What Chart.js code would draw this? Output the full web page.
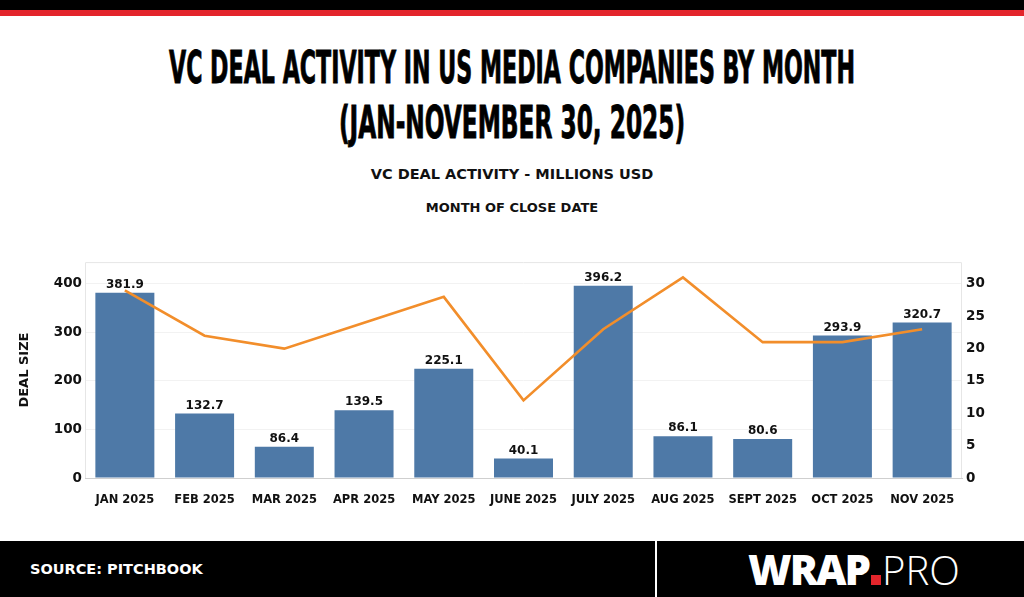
<!DOCTYPE html>
<html lang="en">
<head>
    <meta charset="UTF-8">
    <title>VC Deal Activity in US Media Companies by Month</title>
    <script src="https://cdn.jsdelivr.net/npm/chart.js"></script>
    <style>
        body {
            margin: 0;
            width: 1024px;
            height: 597px;
            position: relative;
            overflow: hidden;
            background: #fff;
            font-family: 'DejaVu Sans', sans-serif;
        }

        .band-black { position: absolute; left: 0; top: 0; width: 1024px; height: 10px; background: #000; }
        .band-red { position: absolute; left: 0; top: 10px; width: 1024px; height: 6px; background: #e3252b; }

        .title {
            position: absolute;
            left: 512px;
            font-family: 'Liberation Sans Narrow', 'DejaVu Sans Condensed', sans-serif;
            font-weight: bold;
            font-size: 44px;
            line-height: 44px;
            color: #000;
            white-space: nowrap;
            -webkit-text-stroke: 0.9px #000;
            transform-origin: center;
        }

        .sub {
            position: absolute;
            left: 0;
            width: 1024px;
            text-align: center;
            font-weight: bold;
            color: #111;
            white-space: nowrap;
        }

        #wrap {
            position: absolute;
            left: 0;
            top: 250px;
            width: 1024px;
            height: 260px;
        }

        footer {
            position: absolute;
            left: 0;
            top: 541px;
            width: 1024px;
            height: 56px;
            background: #000;
        }
        .divider { position: absolute; left: 655px; top: 0; width: 2px; height: 56px; background: #fff; }
        .source {
            position: absolute;
            left: 30px;
            top: 19px;
            color: #fff;
            font-weight: bold;
            font-size: 14.5px;
            line-height: 18px;
        }
        .logo {
            position: absolute;
            left: 748px;
            top: 4px;
            color: #fff;
            font-family: 'Open Sans', sans-serif;
            font-size: 42px;
            line-height: 48px;
            white-space: nowrap;
        }
        .logo b { font-weight: 800; letter-spacing: -2px; }
        .logo i { display: inline-block; width: 10px; height: 10px; background: #e3252b; margin: 0 1px 0 2px; }
        .logo em { font-style: normal; font-weight: 300; font-size: 40px; }
    </style>
</head>
<body>
    <div class="band-black"></div>
    <div class="band-red"></div>

    <div class="title" id="t1" style="top: 46px;">VC DEAL ACTIVITY IN US MEDIA COMPANIES BY MONTH</div>
    <div class="title" id="t2" style="top: 101px;">(JAN-NOVEMBER 30, 2025)</div>

    <div class="sub" style="top: 166px; font-size: 14.5px;">VC DEAL ACTIVITY - MILLIONS USD</div>
    <div class="sub" style="top: 200px; font-size: 13px;">MONTH OF CLOSE DATE</div>

    <div id="wrap"><canvas id="dealChart"></canvas></div>

    <footer>
        <div class="source">SOURCE: PITCHBOOK</div>
        <div class="divider"></div>
        <div class="logo"><b>WRAP</b><i></i><em>PRO</em></div>
    </footer>

    <script>
        // data
        const months = ['JAN 2025', 'FEB 2025', 'MAR 2025', 'APR 2025', 'MAY 2025', 'JUNE 2025',
                        'JULY 2025', 'AUG 2025', 'SEPT 2025', 'OCT 2025', 'NOV 2025'];
        // bar heights as drawn (the March bar is drawn shorter than its 86.4 label)
        const dealSize = [381.9, 132.7, 64.4, 139.5, 225.1, 40.1, 396.2, 86.1, 80.6, 293.9, 320.7];
        const dealSizeLabels = ['381.9', '132.7', '86.4', '139.5', '225.1', '40.1',
                                '396.2', '86.1', '80.6', '293.9', '320.7'];
        const dealCount = [29, 22, 20, 24, 28, 12, 23, 31, 21, 21, 23];
        const leftTicks = [0, 100, 200, 300, 400];
        const rightTicks = [0, 5, 10, 15, 20, 25, 30];

        // squeeze the headline lines to the widths of the original
        function fitTitle(id, width) {
            const el = document.getElementById(id);
            el.style.transform = 'translateX(-50%) scaleX(' + (width / el.offsetWidth) + ')';
        }
        fitTitle('t1', 686);
        fitTitle('t2', 346);

        const fontFamily = "'DejaVu Sans', sans-serif";

        // light frame around the plot
        const framePlugin = {
            id: 'frame',
            beforeDatasetsDraw(chart) {
                const { ctx, chartArea: a } = chart;
                ctx.save();
                ctx.strokeStyle = '#e6e6e6';
                ctx.lineWidth = 1;
                ctx.beginPath();
                ctx.moveTo(a.left + 0.5, a.bottom);
                ctx.lineTo(a.left + 0.5, a.top + 0.5);
                ctx.lineTo(a.right - 0.5, a.top + 0.5);
                ctx.lineTo(a.right - 0.5, a.bottom);
                ctx.stroke();
                ctx.restore();
            }
        };

        // value labels on top of the bars
        const barLabelPlugin = {
            id: 'barLabels',
            afterDatasetsDraw(chart) {
                const { ctx } = chart;
                const meta = chart.getDatasetMeta(1);
                ctx.save();
                ctx.font = 'bold 12px ' + fontFamily;
                ctx.fillStyle = '#111';
                ctx.textAlign = 'center';
                ctx.textBaseline = 'bottom';
                meta.data.forEach((bar, i) => {
                    ctx.fillText(dealSizeLabels[i], bar.x, bar.y - 2);
                });
                ctx.restore();
            }
        };

        new Chart(document.getElementById('dealChart'), {
            data: {
                labels: months,
                datasets: [
                    {
                        type: 'line',
                        label: 'Deal Count',
                        data: dealCount,
                        yAxisID: 'y1',
                        borderColor: '#f28e2b',
                        borderWidth: 2.6,
                        pointRadius: 0,
                        tension: 0,
                        order: 0
                    },
                    {
                        type: 'bar',
                        label: 'Deal Size',
                        data: dealSize,
                        yAxisID: 'y',
                        backgroundColor: '#4e79a7',
                        barPercentage: 0.74,
                        categoryPercentage: 1,
                        order: 1
                    }
                ]
            },
            options: {
                responsive: true,
                maintainAspectRatio: false,
                animation: false,
                layout: { padding: { top: 10.7, left: 0, right: 0, bottom: 0 }, autoPadding: false },
                plugins: {
                    legend: { display: false },
                    tooltip: { enabled: false }
                },
                scales: {
                    x: {
                        grid: { display: false },
                        border: { color: '#cfcfcf' },
                        ticks: {
                            color: '#111',
                            font: { family: fontFamily, weight: 'bold', size: 11.5 },
                            padding: 7,
                            maxRotation: 0,
                            autoSkip: false
                        },
                        afterFit(scale) { scale.height = 32; }
                    },
                    y: {
                        position: 'left',
                        min: 0,
                        max: 445,
                        grid: { color: '#f2f2f2', drawTicks: false },
                        border: { display: false },
                        ticks: { color: '#111', font: { family: fontFamily, weight: 'bold', size: 13.5 }, padding: 3 },
                        afterBuildTicks(scale) { scale.ticks = leftTicks.map(v => ({ value: v })); },
                        title: {
                            display: true,
                            text: 'DEAL SIZE',
                            color: '#111',
                            font: { family: fontFamily, weight: 'bold', size: 13 },
                            padding: { top: 17, bottom: 0 }
                        },
                        afterFit(scale) { scale.width = 85; }
                    },
                    y1: {
                        position: 'right',
                        min: 0,
                        max: 445 * 30 / 400,
                        grid: { display: false, drawTicks: false },
                        border: { display: false },
                        ticks: { color: '#111', font: { family: fontFamily, weight: 'bold', size: 13.5 }, padding: 4 },
                        afterBuildTicks(scale) { scale.ticks = rightTicks.map(v => ({ value: v })); },
                        afterFit(scale) { scale.width = 62; }
                    }
                }
            },
            plugins: [framePlugin, barLabelPlugin]
        });
    </script>
</body>
</html>
